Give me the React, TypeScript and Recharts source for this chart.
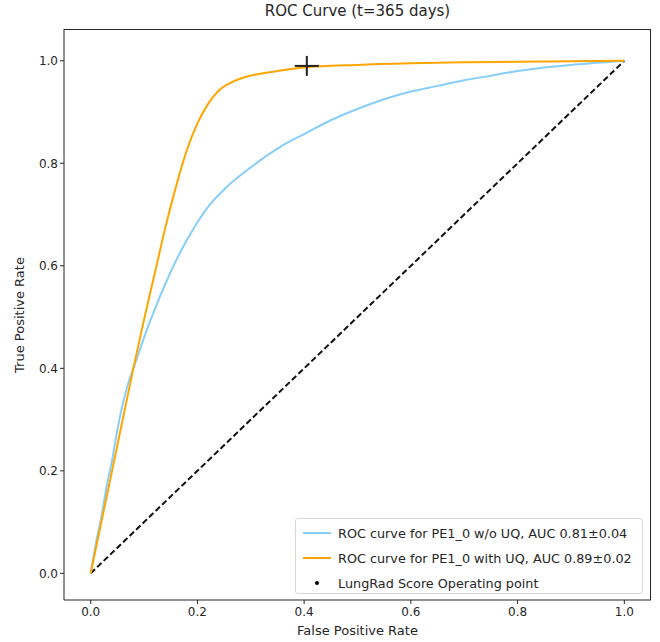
import {
  ComposedChart,
  Line,
  Scatter,
  XAxis,
  YAxis,
} from "recharts";

const fprNoUq = [0, 0.01, 0.02, 0.03, 0.04, 0.05, 0.06, 0.07, 0.08, 0.09, 0.1, 0.12, 0.14, 0.16, 0.18, 0.2, 0.22, 0.25, 0.28, 0.3, 0.33, 0.36, 0.4, 0.45, 0.5, 0.55, 0.6, 0.65, 0.7, 0.75, 0.8, 0.85, 0.9, 0.95, 1];
const tprNoUq = [0, 0.06, 0.11, 0.17, 0.22, 0.28, 0.33, 0.37, 0.4, 0.43, 0.46, 0.515, 0.565, 0.61, 0.65, 0.685, 0.715, 0.749, 0.776, 0.792, 0.815, 0.835, 0.857, 0.884, 0.906, 0.925, 0.94, 0.951, 0.962, 0.971, 0.98, 0.987, 0.992, 0.996, 1];

const fprUq = [0, 0.02, 0.04, 0.06, 0.08, 0.1, 0.12, 0.14, 0.16, 0.18, 0.2, 0.22, 0.24, 0.26, 0.28, 0.3, 0.35, 0.4, 0.5, 0.6, 0.7, 0.8, 0.9, 1];
const tprUq = [0, 0.1, 0.2, 0.3, 0.4, 0.495, 0.585, 0.675, 0.755, 0.825, 0.878, 0.916, 0.942, 0.956, 0.965, 0.971, 0.98, 0.987, 0.992, 0.995, 0.997, 0.998, 0.999, 1];

const chanceLine = [0, 1];
const operatingPoint = { x: 0.405, y: 0.99 };
const ticks = [0, 0.2, 0.4, 0.6, 0.8, 1.0];

const noUqData = fprNoUq.map((x, i) => ({ x, y: tprNoUq[i] }));
const uqData = fprUq.map((x, i) => ({ x, y: tprUq[i] }));
const chanceData = chanceLine.map((v) => ({ x: v, y: v }));

const FONT = "'DejaVu Sans', sans-serif";
const INK = "#262626";

const PlusShape = (props: any) => {
  const { cx, cy } = props;
  return (
    <g stroke="#222" strokeWidth={2}>
      <line x1={cx - 12} y1={cy} x2={cx + 12} y2={cy} />
      <line x1={cx} y1={cy - 10} x2={cx} y2={cy + 10} />
    </g>
  );
};

const tickStyle = { fill: INK, fontSize: 12, fontFamily: FONT };
const fmt = (v: number) => v.toFixed(1);

export default function App() {
  return (
    <div style={{ position: "absolute", left: 0, top: 0, width: 660, height: 642, background: "#fff", fontFamily: FONT }}>
      <ComposedChart width={660} height={642} margin={{ top: 29, right: 9, bottom: 12, left: 14 }}>
        <XAxis
          type="number"
          dataKey="x"
          domain={[-0.05, 1.05]}
          ticks={ticks}
          tickFormatter={fmt}
          tick={tickStyle}
          tickSize={4}
          tickMargin={3}
          height={30}
          stroke={INK}
          allowDataOverflow
        />
        <YAxis
          type="number"
          domain={[-0.052, 1.062]}
          ticks={ticks}
          tickFormatter={fmt}
          tick={tickStyle}
          tickSize={4}
          tickMargin={2}
          width={50}
          stroke={INK}
          allowDataOverflow
        />
        <Line
          data={chanceData}
          dataKey="y"
          type="linear"
          stroke="#111"
          strokeWidth={2}
          strokeDasharray="6 3"
          dot={false}
          isAnimationActive={false}
        />
        <Line
          data={noUqData}
          dataKey="y"
          type="monotone"
          stroke="#87CEFA"
          strokeWidth={2}
          dot={false}
          isAnimationActive={false}
        />
        <Line
          data={uqData}
          dataKey="y"
          type="monotone"
          stroke="#FFA500"
          strokeWidth={2}
          dot={false}
          isAnimationActive={false}
        />
        <Scatter
          data={[operatingPoint]}
          dataKey="y"
          shape={<PlusShape />}
          isAnimationActive={false}
        />
      </ComposedChart>

      {/* top and right spines of the frame */}
      <div
        style={{
          position: "absolute",
          left: 64,
          top: 29,
          width: 587,
          height: 571,
          borderTop: `1px solid ${INK}`,
          borderRight: `1px solid ${INK}`,
          boxSizing: "border-box",
          pointerEvents: "none",
        }}
      />

      <div style={{ position: "absolute", left: 0, width: 715, top: 2, textAlign: "center", fontSize: 15, color: INK }}>
        ROC Curve (t=365 days)
      </div>
      <div style={{ position: "absolute", left: 0, width: 715, top: 623, textAlign: "center", fontSize: 13, color: INK }}>
        False Positive Rate
      </div>
      <div
        style={{
          position: "absolute",
          left: 19,
          top: 315,
          fontSize: 13,
          color: INK,
          whiteSpace: "nowrap",
          transform: "translate(-50%, -50%) rotate(-90deg)",
        }}
      >
        True Positive Rate
      </div>

      <div
        style={{
          position: "absolute",
          left: 295,
          top: 518,
          width: 346,
          height: 74,
          border: "1px solid #d9d9d9",
          borderRadius: 3,
          background: "rgba(255,255,255,0.85)",
          fontSize: 12.8,
          color: INK,
        }}
      >
        {[
          { label: "ROC curve for PE1_0 w/o UQ, AUC 0.81±0.04", color: "#87CEFA", kind: "line" },
          { label: "ROC curve for PE1_0 with UQ, AUC 0.89±0.02", color: "#FFA500", kind: "line" },
          { label: "LungRad Score Operating point", color: "#000", kind: "dot" },
        ].map((item, i) => (
          <div key={i} style={{ position: "absolute", left: 0, top: 5 + i * 25, height: 18, width: "100%", display: "flex", alignItems: "center" }}>
            <div style={{ width: 42, display: "flex", justifyContent: "center" }}>
              {item.kind === "line" ? (
                <div style={{ width: 28, height: 2, background: item.color }} />
              ) : (
                <div style={{ width: 4, height: 4, borderRadius: 2, background: item.color }} />
              )}
            </div>
            <span style={{ whiteSpace: "nowrap" }}>{item.label}</span>
          </div>
        ))}
      </div>
    </div>
  );
}
